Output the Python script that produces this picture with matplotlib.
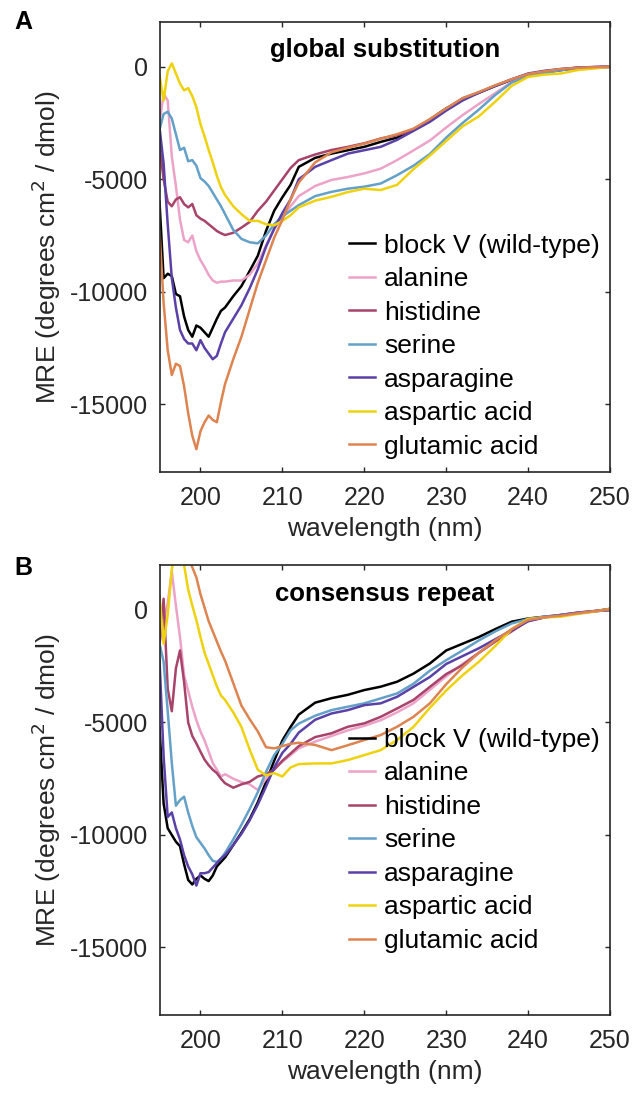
import matplotlib
matplotlib.use("Agg")
import matplotlib.pyplot as plt

plt.rcParams["font.family"] = ["Liberation Sans", "DejaVu Sans"]
plt.rcParams["axes.unicode_minus"] = False

# shared wavelength grid (nm)
wavelength = [195, 195.5, 196, 196.5, 197, 197.5, 198, 198.5, 199, 199.5, 200, 200.5, 201, 201.5, 202, 202.5, 203,
              204, 205, 206, 207, 208, 209, 210, 211, 212,
              214, 216, 218, 220, 222, 224, 226, 228, 230, 232, 234, 236, 238, 240, 242, 244, 246, 248, 250]

series_names = ["block V (wild-type)", "alanine", "histidine", "serine", "asparagine", "aspartic acid", "glutamic acid"]
series_colors = ["#000000", "#eda3c7", "#a8436a", "#64a0c8", "#5a41a8", "#efd20f", "#dd8450"]

# panel A: global substitution
a_wild = [-6000, -9400, -9200, -9300, -10100, -10200, -11100, -11700, -12000, -11500, -11600, -11800, -12000, -11600, -11200, -10850, -10700,
          -10200, -9750, -9080, -8400, -7300, -6400, -5800, -5250, -4450,
          -4050, -3860, -3710, -3560, -3340, -3150, -2800, -2350, -1850, -1450, -1150, -850, -580, -350, -250, -150, -60, -30, 0]
a_alanine = [-2500, -1200, -1500, -4000, -5300, -6800, -7700, -7800, -7500, -8200, -8600, -8900, -9250, -9500, -9600, -9550, -9550,
             -9500, -9500, -9250, -8750, -7950, -7200, -6700, -6200, -5750,
             -5300, -5030, -4900, -4740, -4530, -4150, -3720, -3280, -2700, -2150, -1650, -1170, -680, -350, -220, -120, -50, -20, 0]
a_histidine = [-3500, -5000, -6000, -6200, -5900, -5800, -6100, -6250, -6100, -6600, -6750, -6850, -7000, -7150, -7300, -7400, -7480,
               -7380, -7150, -6900, -6400, -6000, -5500, -5000, -4500, -4150,
               -3900, -3700, -3560, -3400, -3190, -3040, -2830, -2400, -1880, -1400, -1150, -850, -560, -330, -200, -120, -40, -20, 0]
a_serine = [-2800, -2100, -2000, -2300, -3000, -3700, -3600, -4200, -4150, -4400, -4950, -5100, -5300, -5600, -5900, -6200, -6550,
            -7250, -7650, -7800, -7850, -7500, -7000, -6650, -6400, -6150,
            -5750, -5560, -5420, -5330, -5190, -4820, -4400, -3880, -3150, -2500, -1900, -1250, -700, -430, -280, -150, -60, -20, 0]
a_asparagine = [-2700, -4300, -7000, -9400, -10700, -11700, -12100, -12300, -12300, -12600, -12150, -12500, -12750, -13000, -12850, -12300, -11800,
                -11200, -10600, -9850, -9000, -8000, -7200, -6500, -5900, -5000,
                -4450, -4150, -3860, -3710, -3560, -3250, -2850, -2450, -1950, -1500, -1150, -850, -560, -300, -180, -100, -40, -10, 0]
a_aspartic = [-400, -1500, -200, 150, -300, -750, -1050, -950, -1300, -1800, -2550, -3100, -3700, -4250, -4850, -5350, -5700,
              -6200, -6550, -6850, -6850, -7000, -7050, -6850, -6600, -6250,
              -5950, -5780, -5570, -5420, -5480, -5250, -4550, -3950, -3300, -2650, -2200, -1550, -850, -450, -350, -300, -150, -80, 0]
a_glutamic = [-7300, -10500, -12600, -13700, -13200, -13300, -14200, -15400, -16400, -17000, -16200, -15800, -15500, -15700, -15800, -14900, -14100,
              -13000, -12000, -10800, -9600, -8600, -7600, -6800, -5900, -5150,
              -4250, -3800, -3600, -3420, -3200, -3000, -2750, -2330, -1850, -1400, -1120, -820, -560, -320, -200, -100, -50, -20, 0]

# panel B: consensus repeat
b_wild = [-5200, -8600, -9700, -10000, -10300, -10500, -11300, -12000, -12200, -11950, -11800, -11950, -12050, -11800, -11400, -11200, -11000,
          -10450, -9900, -9300, -8550, -7650, -6700, -5800, -5200, -4650,
          -4120, -3920, -3770, -3560, -3410, -3190, -2830, -2380, -1800, -1500, -1200, -850, -520, -380, -300, -230, -150, -60, 50]
b_alanine = [-1500, -500, 300, 1700, 200, -1200, -2900, -3600, -4300, -4900, -5400, -5800, -6300, -6800, -7100, -7400, -7300,
             -7500, -7650, -7750, -8000, -7500, -7050, -6750, -6450, -6150,
             -5850, -5600, -5350, -5150, -4900, -4550, -4150, -3550, -2950, -2400, -1900, -1400, -900, -500, -330, -220, -120, -50, 0]
b_histidine = [-1500, 500, -3500, -4500, -2600, -1800, -3200, -5000, -5600, -5930, -6300, -6650, -6900, -7100, -7250, -7500, -7700,
               -7900, -7750, -7640, -7400, -7300, -7100, -6700, -6380, -6050,
               -5650, -5480, -5190, -5040, -4750, -4380, -4000, -3420, -2850, -2450, -1900, -1400, -950, -480, -320, -220, -120, -50, 0]
b_serine = [-1500, -2300, -4500, -6800, -8700, -8450, -8300, -9000, -9600, -10100, -10350, -10600, -10900, -11150, -11200, -11050, -10800,
            -10200, -9550, -8850, -8100, -7200, -6450, -5950, -5350, -5050,
            -4700, -4450, -4300, -4150, -3930, -3710, -3280, -2700, -2230, -1800, -1350, -950, -600, -400, -300, -220, -130, -60, 0]
b_asparagine = [-2200, -6500, -9200, -9000, -9700, -10200, -10900, -11400, -11750, -12250, -11700, -11700, -11650, -11450, -11250, -11050, -10900,
                -10450, -9950, -9350, -8650, -7850, -7000, -6350, -5950, -5450,
                -4880, -4600, -4450, -4230, -4150, -3860, -3420, -2980, -2400, -2050, -1700, -1300, -900, -500, -330, -230, -130, -60, 0]
b_aspartic = [600, -1500, -200, 1800, 2800, 3000, 2000, 900, 200, -450, -1200, -1900, -2400, -2900, -3400, -3800, -4000,
              -4550, -5200, -6200, -7100, -7350, -7250, -7400, -7000, -6850,
              -6820, -6820, -6670, -6450, -6230, -5780, -5200, -4350, -3580, -2900, -2300, -1600, -850, -400, -330, -300, -180, -80, 50]
b_glutamic = [3500, 3500, 3500, 3500, 3500, 3500, 3000, 2400, 1900, 1450, 700, 100, -500, -950, -1400, -1850, -2250,
              -3250, -4250, -4850, -5400, -6100, -6150, -6050, -5950, -5900,
              -6000, -6230, -6010, -5780, -5560, -5190, -4750, -4150, -3300, -2550, -1900, -1350, -850, -450, -320, -250, -150, -60, 30]

panel_a = [a_wild, a_alanine, a_histidine, a_serine, a_asparagine, a_aspartic, a_glutamic]
panel_b = [b_wild, b_alanine, b_histidine, b_serine, b_asparagine, b_aspartic, b_glutamic]

x_ticks = [200, 210, 220, 230, 240, 250]
y_ticks = [-15000, -10000, -5000, 0]
axis_grey = "#262626"


def draw_panel(axis, curves, title, legend_center_y):
    for values, name, color in zip(curves, series_names, series_colors):
        axis.plot(wavelength, values, color=color, linewidth=1.8, label=name)
    axis.set_xlim(195, 250)
    axis.set_ylim(-18000, 2000)
    axis.set_xticks(x_ticks)
    axis.set_yticks(y_ticks)
    axis.tick_params(direction="in", top=True, right=True, length=3.8, width=1.0, colors=axis_grey, labelsize=18)
    axis.tick_params(axis="x", pad=10)
    axis.tick_params(axis="y", pad=8)
    for spine in axis.spines.values():
        spine.set_color(axis_grey)
        spine.set_linewidth(1.2)
    axis.set_xlabel("wavelength (nm)", fontsize=19, color=axis_grey, labelpad=5)
    axis.set_ylabel(r"MRE (degrees cm$^2$ / dmol)", fontsize=19, color=axis_grey, labelpad=5)
    axis.text(0.5, 0.921, title, transform=axis.transAxes, ha="center", va="baseline", fontsize=18.5, fontweight="bold")
    axis.legend(loc="center left", bbox_to_anchor=(0.42, legend_center_y), frameon=False, fontsize=19,
                borderpad=0, borderaxespad=0, handlelength=1.0, handletextpad=0.35, labelspacing=0.36)


figure = plt.figure(figsize=(6.33, 10.93), dpi=100)
axis_a = figure.add_axes([0.252, 0.5684, 0.7117, 0.4117])
axis_b = figure.add_axes([0.252, 0.0714, 0.7117, 0.4117])
draw_panel(axis_a, panel_a, "global substitution", 0.279)
draw_panel(axis_b, panel_b, "consensus repeat", 0.388)
figure.text(14 / 633, 1 - 22 / 1093, "A", fontsize=18, fontweight="bold", ha="left", va="center")
figure.text(14 / 633, 1 - 568 / 1093, "B", fontsize=18, fontweight="bold", ha="left", va="center")
figure.savefig("out.png", dpi=100)
